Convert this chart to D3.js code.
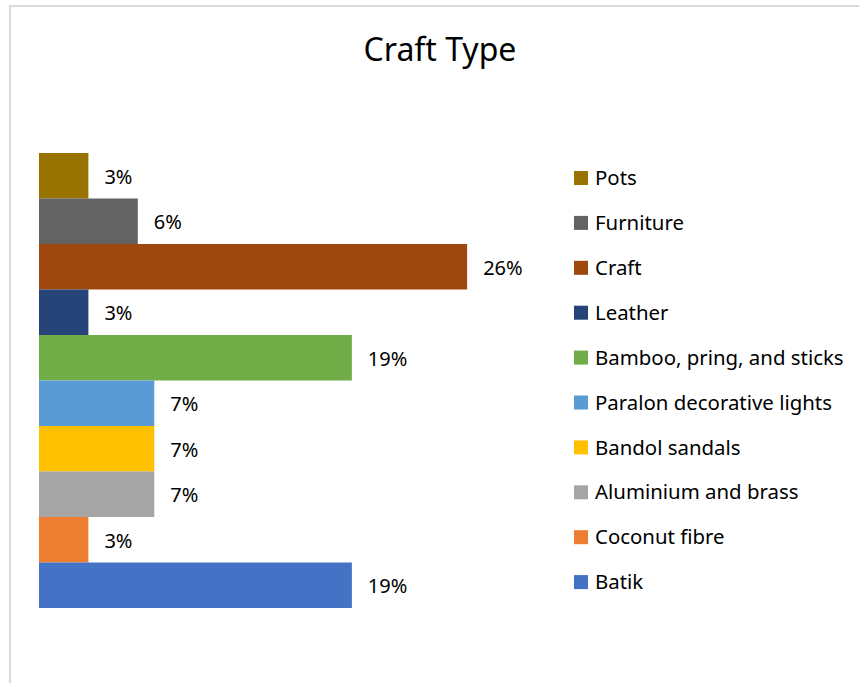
<!DOCTYPE html>
<html>
<head>
<meta charset="utf-8">
<script src="https://cdn.jsdelivr.net/npm/d3@7"></script>
<style>
  html, body { margin: 0; padding: 0; background: #fff; }
  svg { display: block; font-family: "Noto Sans", "Open Sans", sans-serif; }
</style>
</head>
<body>
<svg id="chart" width="859" height="683"></svg>
<script>
// craft types, top to bottom as drawn
const CATEGORIES = ['Pots', 'Furniture', 'Craft', 'Leather', 'Bamboo, pring, and sticks',
    'Paralon decorative lights', 'Bandol sandals', 'Aluminium and brass', 'Coconut fibre', 'Batik'];

// share of each craft type
const SHARES = [0.03, 0.06, 0.26, 0.03, 0.19, 0.07, 0.07, 0.07, 0.03, 0.19];

const COLORS = ['#997300', '#636363', '#9e480e', '#264478', '#70ad47',
    '#5b9bd5', '#ffc000', '#a5a5a5', '#ed7d31', '#4472c4'];

const TITLE = 'Craft Type';

const W = 859, H = 683;
const PLOT = { left: 39, right: 533, top: 153, bottom: 608 };

const svg = d3.select('#chart');

// chart area frame (only left and top edges show in the window)
svg.append('rect')
    .attr('x', 10).attr('y', 6)
    .attr('width', W + 20).attr('height', H + 20)
    .attr('fill', 'none')
    .attr('stroke', '#d9d9d9')
    .attr('stroke-width', 2);

// title
svg.append('text')
    .attr('x', 440).attr('y', 61)
    .attr('text-anchor', 'middle')
    .style('font-size', '32px')
    .style('fill', '#000')
    .text(TITLE);

// scales
const x = d3.scaleLinear().domain([0, 0.3]).range([PLOT.left, PLOT.right]);
const y = d3.scaleBand().domain(CATEGORIES).range([PLOT.top, PLOT.bottom]).padding(0);
const color = d3.scaleOrdinal().domain(CATEGORIES).range(COLORS);
const fmt = d3.format('.0%');

const rows = CATEGORIES.map((c, i) => ({ name: c, value: SHARES[i] }));

// bars
svg.append('g').attr('id', 'bars')
    .selectAll('rect')
    .data(rows)
    .join('rect')
    .attr('x', x(0))
    .attr('y', d => y(d.name))
    .attr('width', d => x(d.value) - x(0))
    .attr('height', y.bandwidth())
    .style('fill', d => color(d.name));

// value labels
svg.append('g').attr('id', 'labels')
    .selectAll('text')
    .data(rows)
    .join('text')
    .attr('x', d => x(d.value) + 16)
    .attr('y', d => y(d.name) + y.bandwidth() / 2 + 1)
    .attr('dy', '0.35em')
    .style('font-size', '20px')
    .style('fill', '#000')
    .text(d => fmt(d.value));

// legend
const legend = svg.append('g').attr('id', 'legend')
    .selectAll('g')
    .data(rows)
    .join('g')
    .attr('transform', (d, i) => `translate(574, ${178 + i * 44.9})`);

legend.append('rect')
    .attr('x', 0).attr('y', -7)
    .attr('width', 14).attr('height', 14)
    .style('fill', d => color(d.name));

legend.append('text')
    .attr('x', 21).attr('y', 0)
    .attr('dy', '0.35em')
    .style('font-size', '20.4px')
    .style('fill', '#000')
    .text(d => d.name);
</script>
</body>
</html>
